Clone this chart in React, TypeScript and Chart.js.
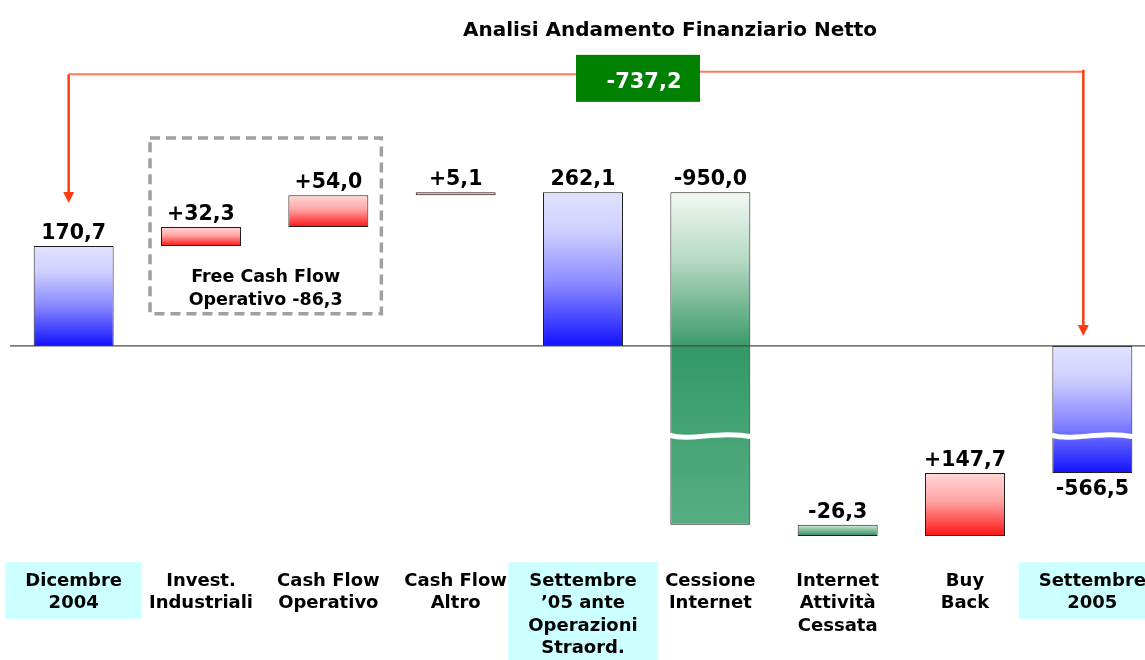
import { useEffect, useRef } from 'react';
import { Chart, registerables } from 'chart.js';

Chart.register(...registerables);

// ---------- data ----------
const categoryLabels: string[][] = [
  ['Dicembre', '2004'],
  ['Invest.', 'Industriali'],
  ['Cash Flow', 'Operativo'],
  ['Cash Flow', 'Altro'],
  ['Settembre', '\u201905 ante', 'Operazioni', 'Straord.'],
  ['Cessione', 'Internet'],
  ['Internet', 'Attivit\u00e0', 'Cessata'],
  ['Buy', 'Back'],
  ['Settembre', '2005'],
];
const amounts: number[] = [170.7, 32.3, 54.0, 5.1, 262.1, -950.0, -26.3, 147.7, -566.5];
const barKinds: string[] = ['total', 'delta', 'delta', 'delta', 'total', 'delta', 'delta', 'delta', 'total'];
const highlightedLabels: boolean[] = [true, false, false, false, true, false, false, false, true];
const brokenBars: number[] = [5, 8];
const fcfGroup: number[] = [1, 2];
const fcfNote: string[] = ['Free Cash Flow', 'Operativo -86,3'];
const netChangeLabel = '-737,2';
const chartTitle = 'Analisi Andamento Finanziario Netto';

// broken / compressed value axis (value units)
const BREAK_AT = -211;
const BREAK_GAP = 269;
const NEG_RATIO = 0.728;
const Y_MIN = -372;
const Y_MAX = 505;
const FCF_BOX_TOP = 355;
const FCF_BOX_BOTTOM = 55;
const CONNECTOR_LEVEL = 466;

const FONT = '"DejaVu Sans", Verdana, sans-serif';
const TICK_SIZE = 18;
const TICK_LH = 22.5;
const TICK_PAD = 6;

const toAxis = (v: number): number => {
  if (v >= 0) return v;
  if (v >= BREAK_AT) return v * NEG_RATIO;
  if (v <= BREAK_AT - BREAK_GAP) return (v + BREAK_GAP) * NEG_RATIO;
  return BREAK_AT * NEG_RATIO;
};

const spans: [number, number][] = [];
{
  let running = 0;
  amounts.forEach((v, i) => {
    if (barKinds[i] === 'total') {
      spans.push([0, v]);
      running = v;
    } else {
      spans.push([running, running + v]);
      running += v;
    }
  });
}
const barData = spans.map(([a, b]) => [toAxis(a), toAxis(b)]);

const fmt = (v: number, kind: string) =>
  (kind === 'delta' && v > 0 ? '+' : '') + v.toFixed(1).replace('.', ',');

function barFill(chart: any, i: number, top: number, bottom: number) {
  const g = chart.ctx.createLinearGradient(0, top, 0, Math.max(bottom, top + 1));
  const kind = barKinds[i];
  const v = amounts[i];
  if (kind === 'total') {
    g.addColorStop(0, '#e2e2ff');
    g.addColorStop(0.25, '#d0d0ff');
    g.addColorStop(0.6, '#8888ff');
    g.addColorStop(1, '#1212ff');
  } else if (v > 0) {
    g.addColorStop(0, '#ffd8d8');
    g.addColorStop(0.45, '#ffa4a4');
    g.addColorStop(1, '#ff1414');
  } else {
    const zeroY = chart.scales.y.getPixelForValue(0);
    if (zeroY > top + 1 && zeroY < bottom - 1) {
      const t = (zeroY - top) / (bottom - top);
      g.addColorStop(0, '#f2f8f4');
      g.addColorStop(t * 0.45, '#b4d8c3');
      g.addColorStop(t - 0.001, '#3c9a6a');
      g.addColorStop(t, '#339966');
      g.addColorStop(1, '#56ae83');
    } else {
      g.addColorStop(0, '#d6ecdf');
      g.addColorStop(1, '#2e8a5a');
    }
  }
  return g;
}

const overlay = {
  id: 'overlay',
  beforeDraw(chart: any) {
    const { ctx, scales } = chart;
    const xs = scales.x;
    ctx.save();
    ctx.font = `bold ${TICK_SIZE}px ${FONT}`;
    categoryLabels.forEach((lines, i) => {
      if (!highlightedLabels[i]) return;
      const cx = xs.getPixelForTick(i);
      const w = Math.max(...lines.map((l) => ctx.measureText(l).width)) + 40;
      const firstC = xs.top + TICK_PAD + TICK_LH / 2;
      const lastC = firstC + (lines.length - 1) * TICK_LH;
      const top = firstC - 19;
      const bottom = lastC + 15;
      ctx.fillStyle = '#ccffff';
      ctx.fillRect(cx - w / 2, top, w, bottom - top);
    });
    ctx.restore();
  },
  afterDatasetsDraw(chart: any) {
    const { ctx, scales, chartArea } = chart;
    const xs = scales.x;
    const ys = scales.y;
    const meta = chart.getDatasetMeta(0);
    const zeroY = ys.getPixelForValue(0);
    ctx.save();

    // zero line
    ctx.strokeStyle = '#4a4a4a';
    ctx.lineWidth = 1.3;
    ctx.beginPath();
    ctx.moveTo(chartArea.left, zeroY);
    ctx.lineTo(chart.width, zeroY);
    ctx.stroke();

    // axis break marks
    const yb = ys.getPixelForValue(toAxis(BREAK_AT));
    brokenBars.forEach((i) => {
      const el = meta.data[i];
      const w = el.width;
      const xL = el.x - w / 2 - 2;
      const xR = el.x + w / 2 + 3;
      ctx.strokeStyle = '#ffffff';
      ctx.lineWidth = 5;
      ctx.beginPath();
      ctx.moveTo(xL, yb - 1);
      ctx.bezierCurveTo(xL + w * 0.3, yb + 6, xL + w * 0.6, yb - 6, xR, yb + 1);
      ctx.stroke();
    });

    // value labels
    ctx.fillStyle = '#000';
    ctx.font = `bold 20.5px ${FONT}`;
    ctx.textAlign = 'center';
    ctx.textBaseline = 'alphabetic';
    meta.data.forEach((el: any, i: number) => {
      const top = Math.min(el.y, el.base);
      const bottom = Math.max(el.y, el.base);
      const txt = fmt(amounts[i], barKinds[i]);
      if (barKinds[i] === 'total' && amounts[i] < 0) {
        ctx.fillText(txt, el.x, bottom + 22);
      } else {
        ctx.fillText(txt, el.x, top - 7);
      }
    });

    // Free cash flow group box
    const bl = xs.getPixelForValue(fcfGroup[0]) - 51;
    const br = xs.getPixelForValue(fcfGroup[1]) + 53;
    const bt = ys.getPixelForValue(FCF_BOX_TOP);
    const bb = ys.getPixelForValue(FCF_BOX_BOTTOM);
    ctx.strokeStyle = '#a0a0a0';
    ctx.lineWidth = 3.5;
    ctx.setLineDash([10, 6]);
    ctx.strokeRect(bl, bt, br - bl, bb - bt);
    ctx.setLineDash([]);
    ctx.font = `bold 17.5px ${FONT}`;
    ctx.fillStyle = '#000';
    ctx.fillText(fcfNote[0], (bl + br) / 2, bb - 32);
    ctx.fillText(fcfNote[1], (bl + br) / 2, bb - 9);

    // connector arrows
    const first = meta.data[0];
    const last = meta.data[meta.data.length - 1];
    const lx = first.x - 5;
    const rx = last.x - 9;
    const ly = ys.getPixelForValue(CONNECTOR_LEVEL);
    const leftTip = Math.min(first.y, first.base) - 43;
    const rightTip = zeroY - 10;
    const boxCx = xs.getPixelForValue(4) + 55;
    const boxW = 124;
    const boxTop = ly - 18;
    const boxH = 47;

    ctx.strokeStyle = '#ff7a5c';
    ctx.lineWidth = 2;
    ctx.beginPath();
    ctx.moveTo(lx, ly + 1.5);
    ctx.lineTo(boxCx - boxW / 2, ly + 1.5);
    ctx.moveTo(boxCx + boxW / 2, ly - 1);
    ctx.lineTo(rx, ly - 1);
    ctx.stroke();

    ctx.strokeStyle = '#ff3b12';
    ctx.fillStyle = '#ff3b12';
    ctx.lineWidth = 2.5;
    const arrow = (x: number, y0: number, y1: number) => {
      ctx.beginPath();
      ctx.moveTo(x, y0);
      ctx.lineTo(x, y1 - 9);
      ctx.stroke();
      ctx.beginPath();
      ctx.moveTo(x - 5.5, y1 - 11);
      ctx.lineTo(x + 5.5, y1 - 11);
      ctx.lineTo(x, y1);
      ctx.closePath();
      ctx.fill();
    };
    arrow(lx, ly + 1.5, leftTip);
    arrow(rx, ly - 3, rightTip);

    // net change box
    ctx.fillStyle = '#008000';
    ctx.fillRect(boxCx - boxW / 2, boxTop, boxW, boxH);
    ctx.fillStyle = '#ffffff';
    ctx.font = `bold 21px ${FONT}`;
    ctx.fillText(netChangeLabel, boxCx + 6, boxTop + 33);

    // title
    ctx.fillStyle = '#000';
    ctx.font = `bold 20px ${FONT}`;
    ctx.fillText(chartTitle, 670, 36);

    ctx.restore();
  },
};

export default function App() {
  const ref = useRef<HTMLCanvasElement>(null);
  useEffect(() => {
    const canvas = ref.current;
    if (!canvas) return;
    const chart = new Chart(canvas, {
      type: 'bar',
      data: {
        labels: categoryLabels,
        datasets: [
          {
            data: barData as any,
            backgroundColor: (c: any) => {
              const ch = c.chart;
              if (!ch.chartArea || c.type !== 'data') return '#8888ff';
              const [a, b] = c.raw as number[];
              const p1 = ch.scales.y.getPixelForValue(a);
              const p2 = ch.scales.y.getPixelForValue(b);
              return barFill(ch, c.dataIndex, Math.min(p1, p2), Math.max(p1, p2));
            },
            borderColor: '#1e1e1e',
            borderWidth: 1,
            borderSkipped: false,
            barPercentage: 0.628,
            categoryPercentage: 1,
          },
        ],
      },
      options: {
        responsive: false,
        animation: false,
        layout: { padding: { left: 10, right: 10, top: 50, bottom: -6 } },
        plugins: {
          legend: { display: false },
          title: { display: false },
          tooltip: { enabled: false },
        },
        scales: {
          x: {
            grid: { display: false, drawTicks: false },
            border: { display: false },
            ticks: {
              color: '#000',
              padding: TICK_PAD,
              maxRotation: 0,
              autoSkip: false,
              font: { family: FONT, size: TICK_SIZE, weight: 'bold', lineHeight: TICK_LH / TICK_SIZE },
            },
          },
          y: {
            display: false,
            min: Y_MIN,
            max: Y_MAX,
          },
        },
      },
      plugins: [overlay],
    });
    return () => chart.destroy();
  }, []);
  return (
    <div
      style={{
        position: 'absolute',
        left: 0,
        top: 0,
        width: 1145,
        height: 660,
        overflow: 'hidden',
        background: '#ffffff',
      }}
    >
      <canvas ref={ref} width={1166} height={660} style={{ display: 'block', width: 1166, height: 660 }} />
    </div>
  );
}
